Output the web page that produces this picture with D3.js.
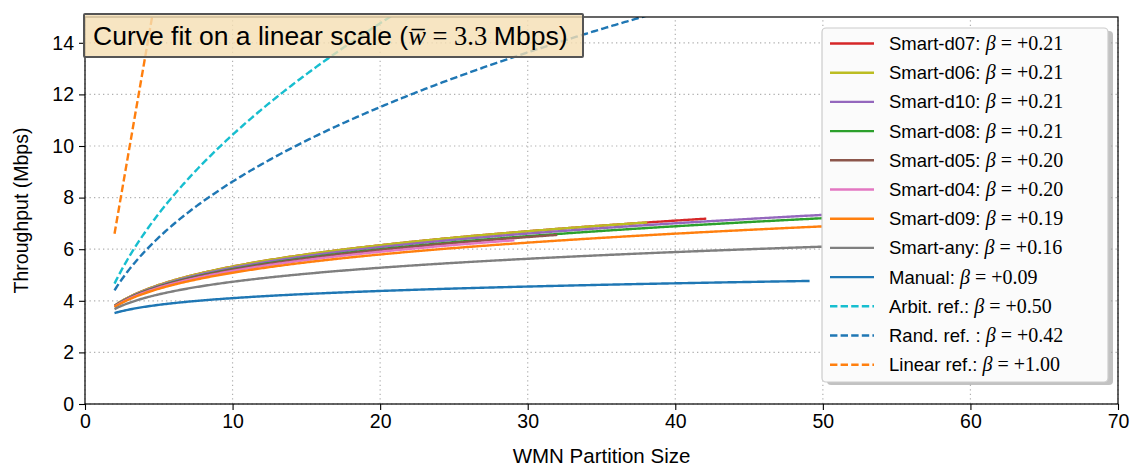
<!DOCTYPE html>
<html>
<head>
<meta charset="utf-8">
<script src="https://cdn.jsdelivr.net/npm/d3@7"></script>
<style>
  html, body { margin: 0; padding: 0; background: #ffffff; }
  svg { display: block; }
  .sans { font-family: "Liberation Sans", "DejaVu Sans", sans-serif; }
  .serif { font-family: "Liberation Serif", "DejaVu Serif", serif; }
</style>
</head>
<body>
<svg id="chart" width="1132" height="467"></svg>
<script>
// ---- data ----
const wBar = 3.3; // Mbps, curve fit y = wBar * x^beta
const seriesNames = ["Smart-d07", "Smart-d06", "Smart-d10", "Smart-d08", "Smart-d05", "Smart-d04",
                     "Smart-d09", "Smart-any", "Manual", "Arbit. ref.", "Rand. ref. ", "Linear ref."];
const seriesColors = ["#d62728", "#bcbd22", "#9467bd", "#2ca02c", "#8c564b", "#e377c2",
                      "#ff7f0e", "#7f7f7f", "#1f77b4", "#17becf", "#1f77b4", "#ff7f0e"];
const betaLabels = ["+0.21", "+0.21", "+0.21", "+0.21", "+0.20", "+0.20",
                    "+0.19", "+0.16", "+0.09", "+0.50", "+0.42", "+1.00"];
const betaFit = [0.208, 0.208, 0.204, 0.1995, 0.198, 0.194, 0.188, 0.157, 0.0946, 0.50, 0.417, 1.00];
const xStart = [2, 2, 2, 2, 2, 2, 2, 2, 2, 2, 2, 2];
const xEnd = [42.1, 38.1, 50, 50, 32, 29.1, 50, 50, 49.1, 25, 45, 6];
const dashed = [false, false, false, false, false, false, false, false, false, true, true, true];
const xTicks = [0, 10, 20, 30, 40, 50, 60, 70];
const yTicks = [0, 2, 4, 6, 8, 10, 12, 14];

// ---- layout ----
const svg = d3.select("#chart");
const margin = { left: 85, right: 14, top: 17, bottom: 63 };
const W = 1132, H = 467;
const x = d3.scaleLinear().domain([0, 70]).range([margin.left, W - margin.right]);
const y = d3.scaleLinear().domain([0, 15]).range([H - margin.bottom, margin.top]);

svg.append("defs").append("clipPath").attr("id", "plotclip")
  .append("rect").attr("x", x(0)).attr("y", y(15)).attr("width", x(70) - x(0)).attr("height", y(0) - y(15));

// grid
const grid = svg.append("g");
grid.selectAll(".gx").data(xTicks).join("line")
  .attr("x1", d => x(d)).attr("x2", d => x(d)).attr("y1", y(0)).attr("y2", y(15))
  .attr("stroke", "#b0b0b0").attr("stroke-width", 1.2).attr("stroke-dasharray", "1.3,3.2");
grid.selectAll(".gy").data(yTicks).join("line")
  .attr("x1", x(0)).attr("x2", x(70)).attr("y1", d => y(d)).attr("y2", d => y(d))
  .attr("stroke", "#b0b0b0").attr("stroke-width", 1.2).attr("stroke-dasharray", "1.3,3.2");

// curves (power-law fits y = wBar * x^beta, as in the reference)
const line = d3.line().x(d => x(d[0])).y(d => y(d[1]));
const curves = svg.append("g").attr("clip-path", "url(#plotclip)");
seriesNames.forEach((name, i) => {
  const pts = d3.range(xStart[i], xEnd[i] + 1e-9, 0.1).map(v => [v, wBar * Math.pow(v, betaFit[i])]);
  pts.push([xEnd[i], wBar * Math.pow(xEnd[i], betaFit[i])]);
  curves.append("path").datum(pts).attr("d", line)
    .attr("fill", "none").attr("stroke", seriesColors[i]).attr("stroke-width", 2.4)
    .attr("stroke-dasharray", dashed[i] ? "7.4,3.2" : null);
});

// axes
const xAxis = svg.append("g").attr("transform", `translate(0,${y(0)})`)
  .call(d3.axisBottom(x).tickValues(xTicks).tickSize(6).tickPadding(4).tickFormat(d3.format("d")));
const yAxis = svg.append("g").attr("transform", `translate(${x(0)},0)`)
  .call(d3.axisLeft(y).tickValues(yTicks).tickSize(6).tickPadding(5).tickFormat(d3.format("d")));
[xAxis, yAxis].forEach(a => {
  a.select(".domain").remove();
  a.selectAll("text").attr("class", "sans").attr("font-size", 19.5).attr("fill", "#000");
  a.selectAll("line").attr("stroke", "#000").attr("stroke-width", 1.1);
});
// spines
svg.append("rect").attr("x", x(0)).attr("y", y(15)).attr("width", x(70) - x(0)).attr("height", y(0) - y(15))
  .attr("fill", "none").attr("stroke", "#000").attr("stroke-width", 1.2);

// axis labels
svg.append("text").attr("class", "sans").attr("x", (x(0) + x(70)) / 2).attr("y", 463)
  .attr("text-anchor", "middle").attr("font-size", 20.5).text("WMN Partition Size");
svg.append("text").attr("class", "sans").attr("transform", `translate(28,${(y(0) + y(15)) / 2}) rotate(-90)`)
  .attr("text-anchor", "middle").attr("font-size", 19.5).text("Throughput (Mbps)");

// title box
svg.append("rect").attr("x", 84).attr("y", 14).attr("width", 499).attr("height", 43)
  .attr("rx", 1).attr("fill", "#f5deb3").attr("fill-opacity", 0.8)
  .attr("stroke", "#555").attr("stroke-width", 2);
const title = svg.append("text").attr("class", "sans").attr("x", 93).attr("y", 45).attr("font-size", 26.5);
title.append("tspan").text("Curve fit on a linear scale (");
title.append("tspan").attr("class", "serif").attr("font-style", "italic").text("w\u0305");
title.append("tspan").attr("class", "serif").text(" = 3.3 ");
title.append("tspan").text("Mbps)");

// legend
const lg = svg.append("g");
const lx = 822, ly = 28, lw = 286, lh = 354;
lg.append("rect").attr("x", lx + 5).attr("y", ly + 3).attr("width", lw).attr("height", lh)
  .attr("rx", 4).attr("fill", "#9a9a9a").attr("fill-opacity", 0.6);
lg.append("rect").attr("x", lx).attr("y", ly).attr("width", lw).attr("height", lh)
  .attr("rx", 4).attr("fill", "#fbfbfb").attr("stroke", "#cccccc").attr("stroke-width", 1.2);
seriesNames.forEach((name, i) => {
  const yy = 43.5 + i * 29.2;
  lg.append("line").attr("x1", 830).attr("x2", 874).attr("y1", yy).attr("y2", yy)
    .attr("stroke", seriesColors[i]).attr("stroke-width", 2.4)
    .attr("stroke-dasharray", dashed[i] ? "7.4,3.2" : null);
  const t = lg.append("text").attr("class", "sans").attr("x", 889).attr("y", yy + 6.5).attr("font-size", 18.5);
  t.append("tspan").text(name + ": ");
  t.append("tspan").attr("class", "serif").attr("font-style", "italic").attr("font-size", 20).text("\u03b2");
  t.append("tspan").attr("class", "serif").attr("font-size", 20).text(" = " + betaLabels[i]);
});
</script>
</body>
</html>
